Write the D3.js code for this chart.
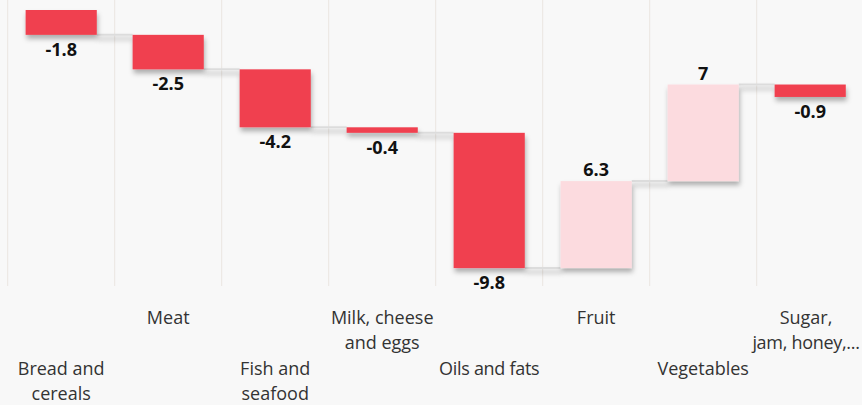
<!DOCTYPE html>
<html><head><meta charset="utf-8">
<script src="https://cdn.jsdelivr.net/npm/d3@7"></script>
<style>
html,body{margin:0;padding:0;background:#f8f8f8;}
svg{display:block;font-family:"Open Sans",sans-serif;}
</style></head>
<body><svg id="c" width="862" height="405"></svg>
<script>
const categories = ["Bread and cereals","Meat","Fish and seafood","Milk, cheese and eggs","Oils and fats","Fruit","Vegetables","Sugar, jam, honey, chocolate and confectionery"];
const labelLines = [["Bread and","cereals"],["Meat"],["Fish and","seafood"],["Milk, cheese","and eggs"],["Oils and fats"],["Fruit"],["Vegetables"],["Sugar,","jam, honey,..."]];
const values = [-1.8,-2.5,-4.2,-0.4,-9.8,6.3,7,-0.9];
const yDomain = [-20, 0];

const svg = d3.select("#c");
const x = d3.scaleBand().domain(categories).range([7.7, 863.7]).paddingInner(0.335).paddingOuter(0.1675);
const y = d3.scaleLinear().domain(yDomain).range([286, 10]);

const defs = svg.append("defs");
const f = defs.append("filter").attr("id","sh").attr("x","-20%").attr("y","-20%").attr("width","140%").attr("height","160%");
f.append("feDropShadow").attr("dx",1).attr("dy",4).attr("stdDeviation",2.5).attr("flood-color","#000").attr("flood-opacity",0.3);

let cum = 0;
const data = values.map((v,i)=>{const s=cum; cum+=v; return {cat:categories[i], v, start:s, end:cum, lines:labelLines[i]};});

const step = x.step();
const bounds = categories.map(c => x(c) - (step - x.bandwidth())/2);
svg.append("g").selectAll("line").data(bounds).join("line")
  .attr("x1",d=>d).attr("x2",d=>d).attr("y1",0).attr("y2",286)
  .attr("stroke","#ebe5e1").attr("stroke-width",1);

svg.append("g").attr("filter","url(#sh)").selectAll("line").data(data.slice(0,-1)).join("line")
  .attr("x1",d=>x(d.cat)+x.bandwidth()).attr("x2",(d,i)=>x(categories[i+1]))
  .attr("y1",d=>y(d.end)).attr("y2",d=>y(d.end))
  .attr("stroke","#dcdcdc").attr("stroke-width",2);

svg.append("g").attr("filter","url(#sh)").selectAll("rect").data(data).join("rect")
  .attr("x",d=>x(d.cat)).attr("width",x.bandwidth())
  .attr("y",d=>y(Math.max(d.start,d.end))).attr("height",d=>Math.abs(y(d.start)-y(d.end)))
  .attr("fill",d=>d.v<0?"#f03f4f":"#fcdbdf");

svg.append("g").selectAll("text").data(data).join("text")
  .attr("x",d=>x(d.cat)+x.bandwidth()/2)
  .attr("y",d=>d.v<0 ? y(d.end)+21 : y(d.end)-5)
  .attr("text-anchor","middle").attr("font-size",18).attr("font-weight",700).attr("fill","#111")
  .text(d=>d.v);

const cl = svg.append("g").selectAll("text").data(data).join("text")
  .attr("text-anchor","middle").attr("font-size",18).attr("fill","#333")
  .attr("y",(d,i)=> i%2===1 ? 324 : 375);
cl.selectAll("tspan").data((d)=>d.lines.map(l=>({l,cx:x(d.cat)+x.bandwidth()/2}))).join("tspan")
  .attr("x",d=>Math.min(d.cx, 806)).attr("dy",(d,i)=>i===0?0:25)
  .attr("letter-spacing",d=>d.l.length>12?-0.3:null)
  .text(d=>d.l);
</script></body></html>
